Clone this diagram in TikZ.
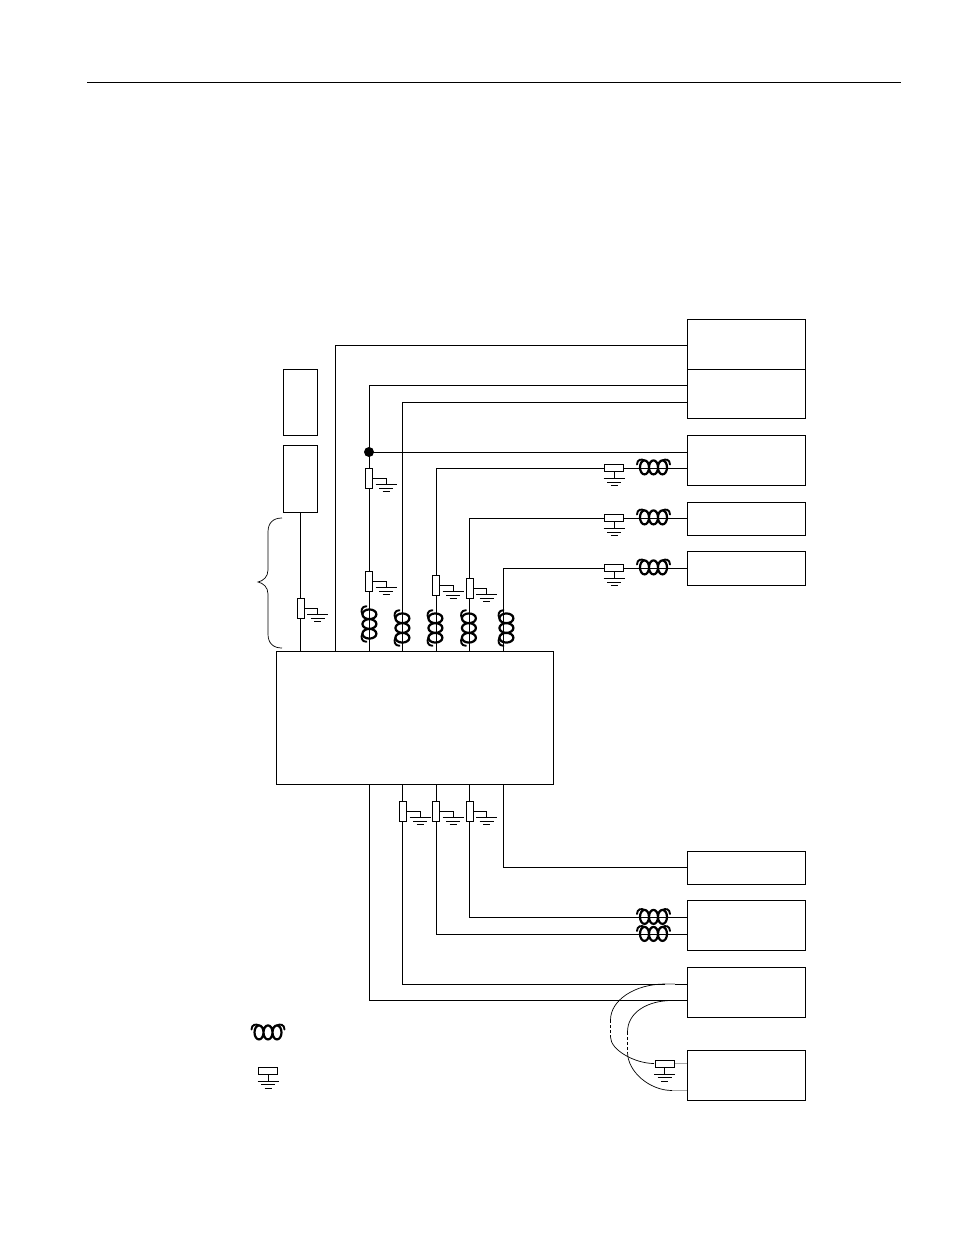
\documentclass[tikz,border=0pt]{standalone}
\begin{document}
\begin{tikzpicture}[x=1pt,y=-1pt,line width=0.9pt,
  box/.style={draw,anchor=north west,inner sep=0pt,outer sep=0pt},
  wire/.style={line width=0.9pt},
  thin wire/.style={line width=0.7pt},
  vcoil/.style={rotate=90,xscale=1.08},
  gnd/.pic={
    \draw (-10.5,0)--(10.5,0) (-7,3.7)--(7,3.7) (-3.5,7.2)--(3.5,7.2);
  },
  rhor/.pic={
    \draw[fill=white] (-9.5,-3.5) rectangle (9.5,3.5);
    \draw (0,3.5)--(0,10.5);
    \pic at (0,10.5) {gnd};
  },
  rvert/.pic={
    \draw[fill=white] (-3.5,-10) rectangle (3.5,10);
    \draw (3.5,0)--(17,0)--(17,6.5);
    \pic at (17,6.5) {gnd};
  },
  coil/.pic={
    \draw[line width=2.2pt]
      (-9,0.4) ellipse[x radius=4.5,y radius=7]
      (0,0.4) ellipse[x radius=4.5,y radius=7]
      (9,0.4) ellipse[x radius=4.5,y radius=7];
    \draw[line width=1.9pt,line cap=round]
      (-16.5,-2.5) .. controls (-16.5,-7.5) and (-12,-8.5) .. (-9,-6.5)
      (16.5,-2.5) .. controls (16.5,-7.5) and (12,-8.5) .. (9,-6.5);
  }]
\useasboundingbox (0,0) rectangle (954,1235);
\coordinate (ruleL) at (87,82.7); \coordinate (ruleR) at (901,82.7);
\draw (ruleL)--(ruleR);

% boxes
\node[box,minimum width=118pt,minimum height=49.6pt] (b1) at (687,319.6) {};
\node[box,minimum width=118pt,minimum height=49pt] (b2) at (687,369.2) {};
\node[box,minimum width=118pt,minimum height=49.6pt] (b3) at (687,435.6) {};
\node[box,minimum width=118pt,minimum height=32.6pt] (b4) at (687,502.6) {};
\node[box,minimum width=118pt,minimum height=33.6pt] (b5) at (687,551.6) {};
\node[box,minimum width=118pt,minimum height=32.6pt] (b6) at (687,851.6) {};
\node[box,minimum width=118pt,minimum height=49.6pt] (b7) at (687,900.6) {};
\node[box,minimum width=118pt,minimum height=49.6pt] (b8) at (687,967.6) {};
\node[box,minimum width=118pt,minimum height=49.6pt] (b9) at (687,1050.6) {};
\node[box,minimum width=34pt,minimum height=65.6pt] (l1) at (283,369.6) {};
\node[box,minimum width=34pt,minimum height=66.6pt] (l2) at (283,445.6) {};
\node[box,minimum width=277pt,minimum height=132.6pt] (main) at (276.2,651.6) {};

% wire end points on boxes
\foreach \n/\x in {t0/300.5,t1/335,t2/369,t3/402,t4/436,t5/469,t6/503}
  \coordinate (\n) at (\x,651.6);
\foreach \n/\x in {u2/369,u3/402,u4/436,u5/469,u6/503}
  \coordinate (\n) at (\x,784);
\foreach \n/\y in {e1/345,e2/385.7,e3/402,e4/452,e5/468,e6/518,e7/568,e8/867.6,e9/917,e10/934,e11/984,e12/1000}
  \coordinate (\n) at (687,\y);
\coordinate (l2b) at (300.5,512);
\coordinate (junc) at (369,452);

\draw[wire] (l2b)--(t0);
\draw[wire] (t1) |- (e1);
\draw[wire] (t2) |- (e2);
\draw[wire] (t3) |- (e3);
\draw[wire] (junc)--(e4);
\draw[wire] (t4) |- (e5);
\draw[wire] (t5) |- (e6);
\draw[wire] (t6) |- (e7);
\draw[wire] (u6) |- (e8);
\draw[wire] (u5) |- (e9);
\draw[wire] (u4) |- (e10);
\draw[wire] (u3) |- (e11);
\draw[wire] (u2) |- (e12);
\fill (junc) circle[radius=5];

% vertical resistors
\pic at (369,478) {rvert};
\pic at (369,581) {rvert};
\pic at (436,585) {rvert};
\pic at (469.5,588) {rvert};
\pic at (300.5,608) {rvert};
\pic at (403,811) {rvert};
\pic at (436,811) {rvert};
\pic at (469.5,811) {rvert};

% horizontal resistors
\pic at (614,468) {rhor};
\pic at (614,518) {rhor};
\pic at (614,568) {rhor};

% coils
\pic at (653.5,467) {coil};
\pic at (653.5,517) {coil};
\pic at (653.5,567) {coil};
\pic at (653.5,916.5) {coil};
\pic at (653.5,933.5) {coil};
\pic[vcoil] at (369,624) {coil};
\pic[vcoil] at (402,628) {coil};
\pic[vcoil] at (435,628) {coil};
\pic[vcoil] at (468.5,628) {coil};
\pic[vcoil] at (506,628) {coil};

% brace
\coordinate (brT) at (282,518); \coordinate (brB) at (282,648); \coordinate (brM) at (258,582);
\draw[thin wire] (brT) .. controls (273,518) and (268,523) .. (268,532)
  -- (268,570) .. controls (268,577) and (263,581) .. (brM)
  .. controls (263,583) and (268,587) .. (268,594)
  -- (268,634) .. controls (268,643) and (273,648) .. (brB);

% lower right loop
\coordinate (rC) at (664.5,1063.5);
\coordinate (e13) at (687,1063.5);
\coordinate (e14) at (687,1090.5);
\draw[line width=1.3pt,gray!70] (rC)--(e13);
\draw[line width=1.3pt,gray!70] (672,1090.5)--(e14);
\draw[line width=1.3pt,gray!50] (665,984)--(675,984);
\draw[thin wire] (665,984) .. controls (635,984) and (610.5,1000) .. (610.5,1020);
\draw[thin wire,densely dashed] (610.5,1020)--(610.5,1037);
\draw[thin wire] (610.5,1037) .. controls (610.5,1050) and (635,1063.5) .. (654,1063.5);
\draw[thin wire] (672,1000.5) .. controls (648,1000.5) and (627.5,1012) .. (627.5,1032);
\draw[thin wire,densely dashed] (627.5,1032)--(627.5,1052);
\draw[thin wire] (627.5,1052) .. controls (627.5,1072) and (650,1090.5) .. (672,1090.5);
\pic at (664.5,1063.5) {rhor};

% legend
\pic at (268,1032) {coil};
\pic at (268,1070.5) {rhor};
\end{tikzpicture}
\end{document}
